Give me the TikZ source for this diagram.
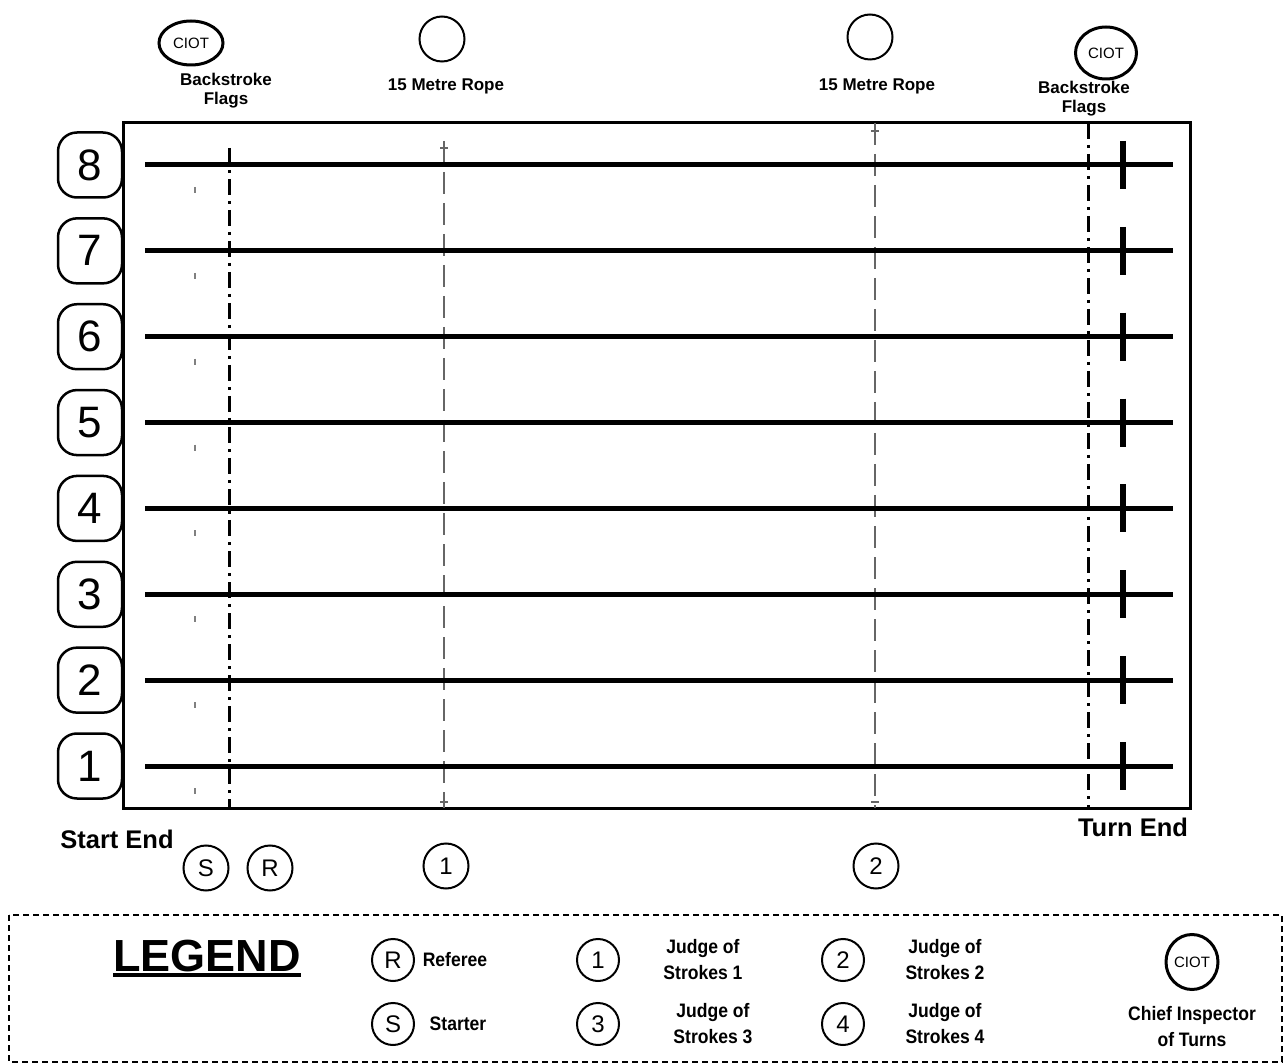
\documentclass[tikz,border=0pt]{standalone}
\usepackage{fontspec}
\setmainfont{Liberation Sans}
\newfontfamily\narrowfont[FakeStretch=0.9]{Liberation Sans}
\usetikzlibrary{shapes.geometric}
\begin{document}
\begin{tikzpicture}[x=1pt,y=-1pt,
  lanebox/.style={draw, line width=2.5pt, rounded corners=19pt, minimum width=64pt, minimum height=65pt, inner sep=0pt, font=\fontsize{44}{44}\selectfont},
  official/.style={draw, circle, line width=2pt, minimum size=45pt, inner sep=0pt, font=\fontsize{24}{24}\selectfont},
  ciot/.style={draw, ellipse, line width=3pt, minimum width=64pt, minimum height=44pt, inner sep=0pt, font=\fontsize{15}{15}\selectfont},
  toplabel/.style={align=center, inner sep=0pt, font=\bfseries\fontsize{17}{19}\selectfont},
  endlabel/.style={inner sep=0pt, font=\bfseries\fontsize{25.5}{28}\selectfont},
  leglabel/.style={align=center, inner sep=0pt, font=\narrowfont\bfseries\fontsize{19.5}{26}\selectfont},
  laneline/.style={line width=5pt},
  turnmark/.style={line width=6pt},
  smalltick/.style={line width=1.2pt, gray},
  flagline/.style={line width=3pt, dash pattern=on 16pt off 6pt on 3pt off 6pt},
  ropeline/.style={line width=2pt, gray!80!black, dash pattern=on 22pt off 9pt},
  ropebar/.style={line width=1.5pt, gray!80!black},
  legendbox/.style={line width=2.5pt, dash pattern=on 6pt off 4pt}
]
\useasboundingbox (0,0) rectangle (1286,1064);

% pool outline
\draw[line width=3pt] (123,123) rectangle (1190,808);

% backstroke flag lines
\coordinate (flagLtop) at (229,148);
\coordinate (flagLbot) at (229,808);
\coordinate (flagRtop) at (1088,123);
\coordinate (flagRbot) at (1088,808);
\draw[flagline] (flagLtop) -- (flagLbot);
\draw[flagline] (flagRtop) -- (flagRbot);

% 15 metre ropes
\coordinate (ropeLtop) at (444,141);
\coordinate (ropeLbot) at (444,808);
\coordinate (ropeRtop) at (875,123);
\coordinate (ropeRbot) at (875,808);
\draw[ropeline] (ropeLtop) -- (ropeLbot);
\draw[ropeline] (ropeRtop) -- (ropeRbot);
\draw[ropebar] (440,148) -- (448,148);
\draw[ropebar] (440,802) -- (448,802);
\draw[ropebar] (871,131) -- (879,131);
\draw[ropebar] (871,802) -- (879,802);

% lanes
\foreach \k in {1,...,8} {
  \pgfmathsetmacro\ly{766-(\k-1)*85.857}
  \node[lanebox] (box\k) at (90,\ly) {\k};
  \coordinate (ls\k) at (145,\ly);
  \coordinate (le\k) at (1173,\ly);
  \draw[laneline] (ls\k) -- (le\k);
  \draw[turnmark] (1123,\ly-24) -- (1123,\ly+24);
  \draw[smalltick] (195,\ly+22) -- (195,\ly+28);
}

% top officials and labels
\node[ciot] (ciotL) at (191,43) {CIOT};
\node[ciot, minimum width=61pt, minimum height=52pt] (ciotR) at (1106,53) {CIOT};
\node[official] (ropeJL) at (442,39) {};
\node[official] (ropeJR) at (870,37) {};
\node[toplabel] (flagLlab) at (226,91) {Backstroke\\Flags};
\node[toplabel] (ropeLlab) at (446,86) {15 Metre Rope};
\node[toplabel] (ropeRlab) at (877,86) {15 Metre Rope};
\node[toplabel] (flagRlab) at (1084,99) {Backstroke\\Flags};

% ends
\node[endlabel] (startend) at (117,839) {Start End};
\node[endlabel] (turnend) at (1133,827) {Turn End};

% bottom officials
\node[official] (offS) at (206,868) {S};
\node[official] (offR) at (270,868) {R};
\node[official] (off1) at (446,866) {1};
\node[official] (off2) at (876,866) {2};

% legend
\draw[legendbox] (9,915) rectangle (1282,1062);
\node[inner sep=0pt, font=\bfseries\fontsize{45}{45}\selectfont, anchor=base] (legend) at (207,971) {LEGEND};
\draw[line width=4pt] ([yshift=-4pt]legend.base west) -- ([yshift=-4pt]legend.base east);

\node[official, minimum size=42pt] (legR) at (393,960) {R};
\node[leglabel] (legRt) at (455,960) {Referee};
\node[official, minimum size=42pt] (legS) at (393,1024) {S};
\node[leglabel] (legSt) at (458,1024) {Starter};

\node[official, minimum size=42pt] (leg1) at (598,960) {1};
\node[leglabel] (leg1t) at (703,960) {Judge of\\Strokes 1};
\node[official, minimum size=42pt] (leg3) at (598,1024) {3};
\node[leglabel] (leg3t) at (713,1024) {Judge of\\Strokes 3};

\node[official, minimum size=42pt] (leg2) at (843,960) {2};
\node[leglabel] (leg2t) at (945,960) {Judge of\\Strokes 2};
\node[official, minimum size=42pt] (leg4) at (843,1024) {4};
\node[leglabel] (leg4t) at (945,1024) {Judge of\\Strokes 4};

\node[ciot, minimum width=52pt, minimum height=55pt] (legC) at (1192,962) {CIOT};
\node[leglabel] (legCt) at (1192,1027) {Chief Inspector\\of Turns};
\end{tikzpicture}
\end{document}
